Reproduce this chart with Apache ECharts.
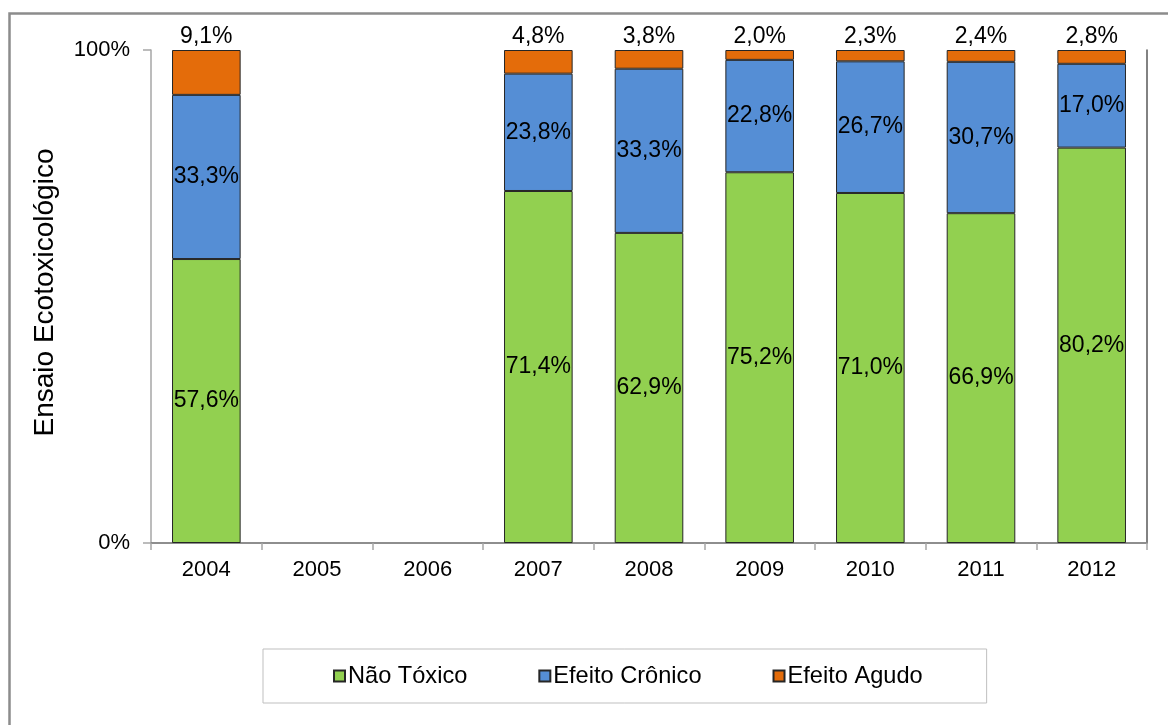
<!DOCTYPE html>
<html>
<head>
<meta charset="utf-8">
<script src="https://cdn.jsdelivr.net/npm/echarts@6/dist/echarts.min.js"></script>
<style>
  html, body { margin: 0; padding: 0; background: #fff; }
  #chart { width: 1168px; height: 725px; }
</style>
</head>
<body>
<div id="chart"></div>
<script>
// Anos avaliados e resultados dos ensaios ecotoxicológicos (%)
const years = ['2004', '2005', '2006', '2007', '2008', '2009', '2010', '2011', '2012'];
const naoToxico = [57.6, null, null, 71.4, 62.9, 75.2, 71.0, 66.9, 80.2];
const efeitoCronico = [33.3, null, null, 23.8, 33.3, 22.8, 26.7, 30.7, 17.0];
const efeitoAgudo = [9.1, null, null, 4.8, 3.8, 2.0, 2.3, 2.4, 2.8];
const yTicks = [0, 100];

const FONT = "'Liberation Sans', Arial, sans-serif";
const fmtPct = v => v.toFixed(1).replace('.', ',') + '%';

const chart = echarts.init(document.getElementById('chart'), null, { renderer: 'canvas' });

function barSeries(name, data, color, labelPos) {
  return {
    name: name,
    type: 'bar',
    stack: 'total',
    data: data,
    barWidth: '62%',
    itemStyle: { color: color, borderColor: '#262626', borderWidth: 1 },
    label: {
      show: true,
      position: labelPos,
      distance: 2,
      color: '#000',
      fontFamily: FONT,
      fontSize: 23,
      textBorderWidth: 0,
      formatter: p => (p.value == null ? '' : fmtPct(p.value))
    },
    emphasis: { disabled: true }
  };
}

chart.setOption({
  animation: false,
  backgroundColor: '#fff',
  textStyle: { fontFamily: FONT },
  graphic: [{
    type: 'rect',
    silent: true,
    shape: { x: 9.5, y: 13.5, width: 1400, height: 1000 },
    style: { fill: 'none', stroke: '#8c8c8c', lineWidth: 2.5 }
  }],
  grid: { left: 151, right: 21, top: 50, bottom: 182, containLabel: false },
  legend: {
    data: ['Não Tóxico', 'Efeito Crônico', 'Efeito Agudo'],
    left: 263,
    top: 649,
    padding: [15, 64, 15, 70],
    itemGap: 71,
    itemWidth: 11,
    itemHeight: 11,
    icon: 'rect',
    borderColor: '#bfbfbf',
    borderWidth: 1,
    textStyle: { fontFamily: FONT, fontSize: 23.6, color: '#000', padding: [0, 0, 0, -2] },
    selectedMode: false
  },
  xAxis: [{
    type: 'category',
    data: years,
    axisLine: { show: true, lineStyle: { color: '#a6a6a6', width: 1.5 } },
    axisTick: { show: true, alignWithLabel: false, length: 7, lineStyle: { color: '#a6a6a6', width: 1.5 } },
    axisLabel: { color: '#000', fontFamily: FONT, fontSize: 22, margin: 16 }
  }, {
    type: 'category',
    data: years,
    position: 'top',
    axisLine: { show: true, lineStyle: { color: '#7f7f7f', width: 1.5 } },
    axisTick: { show: false },
    axisLabel: { show: false }
  }],
  yAxis: [{
    type: 'value',
    min: yTicks[0],
    max: yTicks[yTicks.length - 1],
    interval: 100,
    name: 'Ensaio Ecotoxicológico',
    nameLocation: 'middle',
    nameGap: 92,
    nameTextStyle: { fontFamily: FONT, fontSize: 28, color: '#000', padding: [0, 0, 0, 8] },
    axisLine: { show: true, lineStyle: { color: '#a6a6a6', width: 1.5 } },
    axisTick: { show: true, length: 8, lineStyle: { color: '#a6a6a6', width: 1.5 } },
    axisLabel: { color: '#000', fontFamily: FONT, fontSize: 22, margin: 21, formatter: '{value}%' },
    splitLine: { show: false }
  }, {
    type: 'value',
    min: yTicks[0],
    max: yTicks[yTicks.length - 1],
    interval: 100,
    position: 'right',
    axisLine: { show: true, lineStyle: { color: '#595959', width: 1.5 } },
    axisTick: { show: false },
    axisLabel: { show: false },
    splitLine: { show: false }
  }],
  series: [
    barSeries('Não Tóxico', naoToxico, '#92D050', 'inside'),
    barSeries('Efeito Crônico', efeitoCronico, '#558ED5', 'inside'),
    barSeries('Efeito Agudo', efeitoAgudo, '#E46C0A', 'top')
  ]
});
</script>
</body>
</html>
